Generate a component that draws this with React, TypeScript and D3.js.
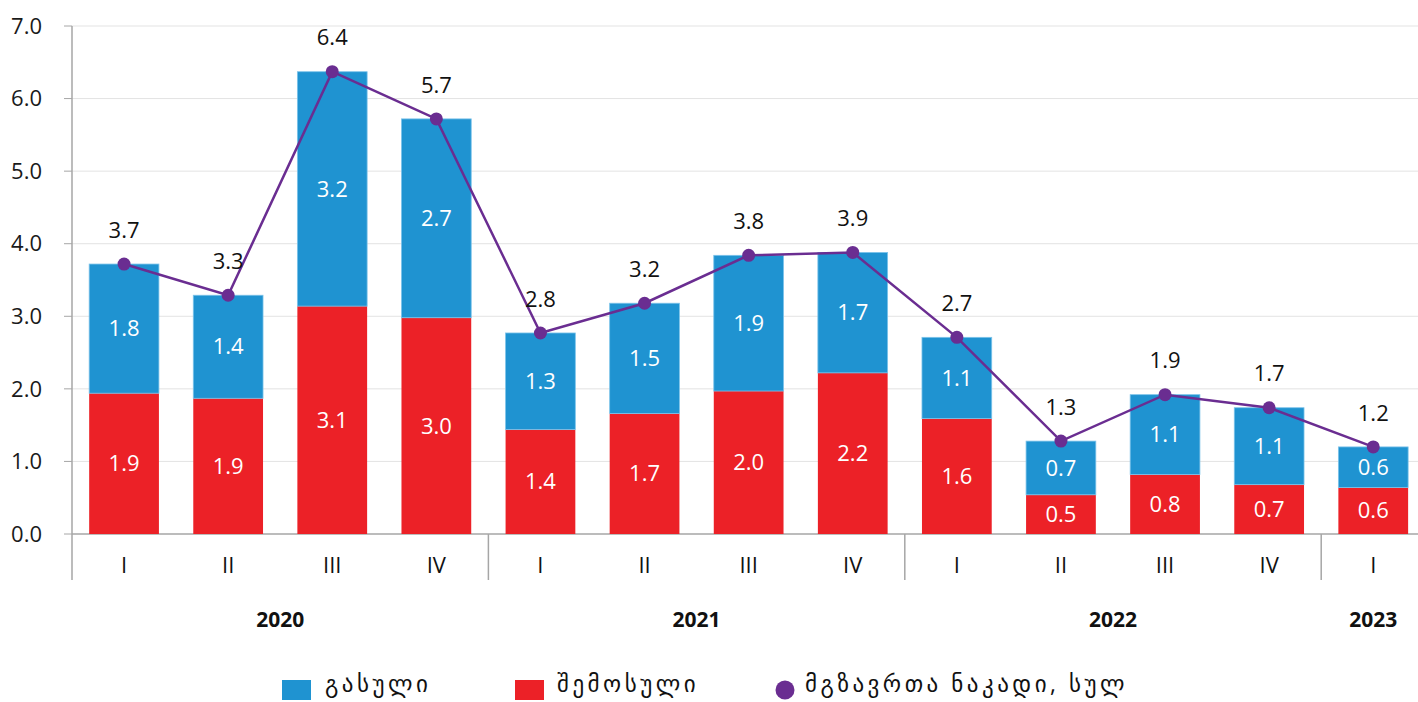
import { useRef, useEffect } from 'react';
import * as d3 from 'd3';

const quarters = ['I', 'II', 'III', 'IV', 'I', 'II', 'III', 'IV', 'I', 'II', 'III', 'IV', 'I'];
const years = ['2020', '2020', '2020', '2020', '2021', '2021', '2021', '2021', '2022', '2022', '2022', '2022', '2023'];
const inbound = [1.94, 1.87, 3.14, 2.98, 1.44, 1.66, 1.97, 2.22, 1.59, 0.54, 0.82, 0.68, 0.64];
const outbound = [1.78, 1.42, 3.23, 2.74, 1.33, 1.52, 1.87, 1.66, 1.12, 0.74, 1.10, 1.06, 0.56];
const yTicks = [0, 1, 2, 3, 4, 5, 6, 7];
const legendNames = ['გასული', 'შემოსული', 'მგზავრთა ნაკადი, სულ'];

const BLUE = '#1f93d1';
const RED = '#ec2127';
const PURPLE = '#6a2d91';
const FONT = '"Open Sans", "DejaVu Sans", sans-serif';

function App() {
    const svgRef = useRef<SVGSVGElement>(null);

    useEffect(() => {
        const width = 1418;
        const height = 702;
        const left = 72;
        const svg = d3.select(svgRef.current)
            .attr('width', width)
            .attr('height', height);
        svg.selectAll('*').remove();

        const idx = quarters.map((_, i) => i);
        const totals = idx.map(i => inbound[i] + outbound[i]);

        const x = d3.scaleBand<number>().domain(idx).range([left, left + 13 * 104.1]).paddingInner(0.33).paddingOuter(0.165);
        const y = d3.scaleLinear().domain([0, 7]).range([534, 26]);

        // gridlines + y axis labels
        svg.append('g').selectAll('line').data(yTicks).join('line')
            .attr('x1', left).attr('x2', width)
            .attr('y1', d => y(d)).attr('y2', d => y(d))
            .attr('stroke', d => d === 0 ? '#a6a6a6' : '#e3e3e3')
            .attr('stroke-width', d => d === 0 ? 1.5 : 1);
        svg.append('g').selectAll('line').data(yTicks).join('line')
            .attr('x1', left - 8).attr('x2', left)
            .attr('y1', d => y(d)).attr('y2', d => y(d))
            .attr('stroke', '#a6a6a6');
        svg.append('g').selectAll('text').data(yTicks).join('text')
            .attr('x', 42).attr('y', d => y(d)).attr('dy', '0.35em')
            .attr('text-anchor', 'end')
            .attr('font-family', FONT).attr('font-size', 22).attr('fill', '#1a1a1a')
            .text(d => d.toFixed(1));
        svg.append('line')
            .attr('x1', left).attr('x2', left).attr('y1', y(7)).attr('y2', 580)
            .attr('stroke', '#a6a6a6').attr('stroke-width', 1.5);

        // bars
        const bars = svg.append('g');
        bars.selectAll('rect.in').data(idx).join('rect')
            .attr('class', 'in')
            .attr('x', i => x(i)!).attr('width', x.bandwidth())
            .attr('y', i => y(inbound[i])).attr('height', i => y(0) - y(inbound[i]))
            .attr('fill', RED);
        bars.selectAll('rect.out').data(idx).join('rect')
            .attr('class', 'out')
            .attr('x', i => x(i)!).attr('width', x.bandwidth())
            .attr('y', i => y(totals[i])).attr('height', i => y(inbound[i]) - y(totals[i]))
            .attr('fill', BLUE).attr('stroke', '#7cc3ea').attr('stroke-width', 0.8);

        const cx = (i: number) => x(i)! + x.bandwidth() / 2;
        bars.selectAll('text.in').data(idx).join('text')
            .attr('class', 'in')
            .attr('x', cx).attr('y', i => (y(0) + y(inbound[i])) / 2).attr('dy', '0.35em')
            .attr('text-anchor', 'middle').attr('font-family', FONT).attr('font-size', 22).attr('fill', '#fff')
            .text(i => inbound[i].toFixed(1));
        bars.selectAll('text.out').data(idx).join('text')
            .attr('class', 'out')
            .attr('x', cx).attr('y', i => (y(inbound[i]) + y(totals[i])) / 2).attr('dy', '0.35em')
            .attr('text-anchor', 'middle').attr('font-family', FONT).attr('font-size', 22).attr('fill', '#fff')
            .text(i => outbound[i].toFixed(1));

        // total line
        const line = d3.line<number>().x(cx).y(i => y(totals[i]));
        svg.append('path').datum(idx)
            .attr('d', line).attr('fill', 'none').attr('stroke', PURPLE).attr('stroke-width', 2.5);
        svg.append('g').selectAll('circle').data(idx).join('circle')
            .attr('cx', cx).attr('cy', i => y(totals[i])).attr('r', 6.5).attr('fill', PURPLE);
        svg.append('g').selectAll('text').data(idx).join('text')
            .attr('x', cx).attr('y', i => y(totals[i]) - 34).attr('dy', '0.35em')
            .attr('text-anchor', 'middle').attr('font-family', FONT).attr('font-size', 22).attr('fill', '#111')
            .text(i => totals[i].toFixed(1));

        // x axis labels
        svg.append('g').selectAll('text').data(idx).join('text')
            .attr('x', cx).attr('y', 565).attr('dy', '0.35em')
            .attr('text-anchor', 'middle').attr('font-family', FONT).attr('font-size', 22).attr('fill', '#111')
            .text(i => quarters[i]);

        const yearGroups = d3.groups(idx, i => years[i]);
        yearGroups.forEach(([yr, members], gi) => {
            const first = members[0];
            const last = members[members.length - 1];
            svg.append('text')
                .attr('x', (cx(first) + cx(last)) / 2).attr('y', 620).attr('dy', '0.35em')
                .attr('text-anchor', 'middle').attr('font-family', FONT).attr('font-size', 21)
                .attr('font-weight', 700).attr('fill', '#111')
                .text(yr);
            if (gi > 0) {
                const sx = x(first)! - x.step() * x.paddingInner() / 2;
                svg.append('line')
                    .attr('x1', sx).attr('x2', sx).attr('y1', y(0)).attr('y2', 580)
                    .attr('stroke', '#a6a6a6').attr('stroke-width', 1.5);
            }
        });

        // legend
        const legend = svg.append('g').attr('font-family', FONT).attr('font-size', 23).attr('fill', '#111');
        const lx = [282, 515, 776];
        legend.append('rect').attr('x', lx[0]).attr('y', 680).attr('width', 29).attr('height', 20).attr('fill', BLUE);
        legend.append('rect').attr('x', lx[1]).attr('y', 680).attr('width', 29).attr('height', 20).attr('fill', RED);
        legend.append('circle').attr('cx', lx[2] + 9).attr('cy', 690).attr('r', 9.5).attr('fill', PURPLE);
        legend.selectAll('text').data(legendNames).join('text')
            .attr('x', (_, k) => [325, 557, 805][k]).attr('y', 692)
            .attr('letter-spacing', 3.5)
            .text(d => d);
    }, []);

    return <svg ref={svgRef} style={{ display: 'block', position: 'absolute', left: 0, top: 0 }} />;
}

export default App;
